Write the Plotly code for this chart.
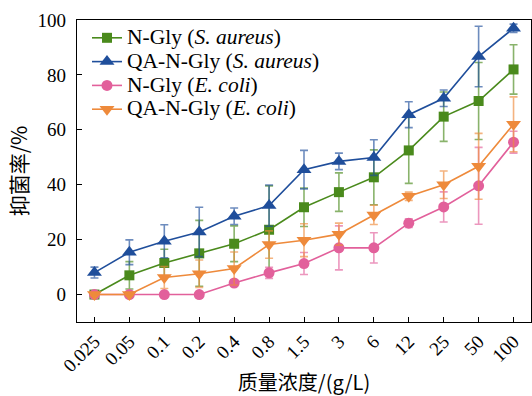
import plotly.graph_objects as go

conc = ["0.025", "0.05", "0.1", "0.2", "0.4", "0.8", "1.5", "3", "6", "12", "25", "50", "100"]

ngly_sa = [0, 7, 11.5, 15, 18.5, 23.6, 31.8, 37.3, 42.7, 52.5, 64.8, 70.5, 82]
ngly_sa_err = [0.5, 5, 5, 12, 6.5, 16, 7, 7, 10, 12, 9, 14, 9]

qa_sa = [8, 15.4, 19.4, 22.8, 28.5, 32.4, 45.5, 48.5, 49.9, 65.5, 71.5, 86.7, 97]
qa_sa_err = [2, 4.5, 6, 9, 3, 7.5, 7, 3, 6.5, 4.7, 3, 11, 1.5]

ngly_ec = [0, 0, 0, 0, 4.2, 7.9, 11.3, 17, 17, 26, 31.9, 39.6, 55.5]
ngly_ec_err = [0, 0, 0, 0, 1, 2, 4, 8, 5.5, 1.6, 5.5, 14, 4]

qa_ec = [0, 0, 6.2, 7.6, 9.5, 18.2, 19.8, 22, 29, 35.8, 40, 46.7, 62]
qa_ec_err = [0.5, 0.5, 4, 5, 6, 5, 6, 4, 3.5, 1.5, 5, 12, 10]

labels = ["N-Gly (<i>S. aureus</i>)", "QA-N-Gly (<i>S. aureus</i>)",
          "N-Gly (<i>E. coli</i>)", "QA-N-Gly (<i>E. coli</i>)"]

series = [
    (labels[0], ngly_sa, ngly_sa_err, "#4a8a1c", "rgba(74,138,28,0.65)", "square", 10),
    (labels[1], qa_sa, qa_sa_err, "#1f4e9b", "rgba(31,78,155,0.65)", "triangle-up", 13),
    (labels[2], ngly_ec, ngly_ec_err, "#e2609b", "rgba(226,96,155,0.65)", "circle", 11),
    (labels[3], qa_ec, qa_ec_err, "#ee8a3b", "rgba(238,138,59,0.65)", "triangle-down", 13),
]

fig = go.Figure()
for name, vals, errs, col, ecol, sym, sz in series:
    fig.add_trace(go.Scatter(
        x=conc, y=vals, name='<span style="font-size:21.5px">' + name + '</span>',
        mode="lines+markers",
        line=dict(color=col, width=1.6),
        marker=dict(color=col, symbol=sym, size=sz),
        error_y=dict(type="data", array=errs, visible=True, color=ecol, thickness=1.6, width=4),
    ))

font = "Liberation Serif, Times New Roman, Noto Sans CJK SC, serif"
cjk = "Noto Sans CJK SC, Liberation Serif"
fig.update_layout(
    width=532, height=396,
    margin=dict(l=77, r=1, t=20, b=74),
    paper_bgcolor="white", plot_bgcolor="white",
    font=dict(family=font, size=19, color="black"),
    showlegend=True,
    legend=dict(x=0.022, y=0.997, xanchor="left", yanchor="top", bgcolor="rgba(0,0,0,0)",
                font=dict(size=16), tracegroupgap=0, itemwidth=30),
    xaxis=dict(type="category", range=[-0.5, 12.5], showline=True, linecolor="black", linewidth=1.2,
               mirror=True, ticks="inside", ticklen=5, tickcolor="black", tickangle=-45,
               tickfont=dict(size=19), showgrid=False, zeroline=False,
               title=dict(text="质量浓度/(g/L)", font=dict(size=20, family=cjk), standoff=4)),
    yaxis=dict(range=[-10, 100], tickvals=[0, 20, 40, 60, 80, 100], showline=True, linecolor="black",
               linewidth=1.2, mirror=True, ticks="inside", ticklen=5, tickcolor="black",
               tickfont=dict(size=19), showgrid=False, zeroline=False, ticklabelstandoff=6,
               title=dict(text="抑菌率/%", font=dict(size=21, family=cjk), standoff=4)),
)

fig.write_html("out.html")
